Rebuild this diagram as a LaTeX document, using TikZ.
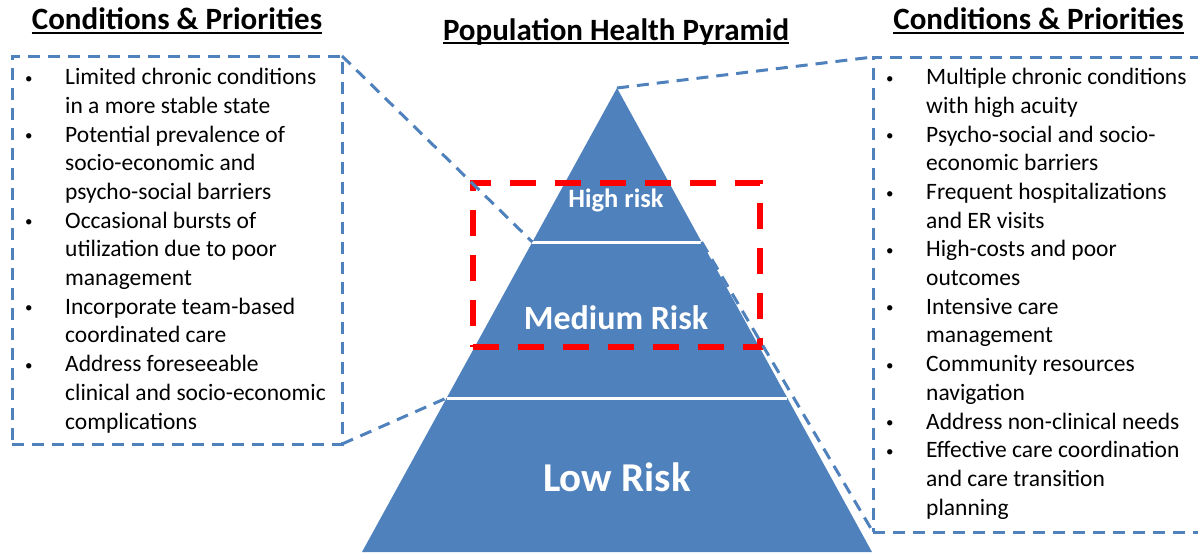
\documentclass[tikz,border=0pt]{standalone}
\usepackage{fontspec}
\setmainfont{Carlito}
\usetikzlibrary{positioning}

\definecolor{pyrblue}{HTML}{4F81BD}
\newcommand{\bitem}{\makebox[40pt][l]{\raisebox{1.5pt}{\fontsize{15}{15}\selectfont\textbullet}}}
\newcommand{\bcont}{\hspace*{40pt}}

\tikzset{
  head/.style={font=\fontsize{31}{36}\selectfont\bfseries, inner sep=0pt, anchor=base},
  layer/.style={text=white, inner sep=0pt, anchor=base},
  listbox/.style={draw=pyrblue, line width=3pt, dash pattern=on 12pt off 8pt, outer sep=0pt, inner sep=0pt},
  link/.style={draw=pyrblue, line width=3pt, dash pattern=on 12pt off 8pt},
  itemtext/.style={font=\fontsize{23.5}{28.67}\selectfont, align=left, inner sep=0pt, anchor=base west},
  focus/.style={draw=red, line width=6pt, dash pattern=on 26pt off 19pt, inner sep=0pt, minimum width=287pt, minimum height=164pt},
}

\begin{document}
\begin{tikzpicture}[x=1pt,y=-1pt]
\useasboundingbox (0,0) rectangle (1198,552);

% pyramid
\coordinate (apex) at (617,88);
\coordinate (bl) at (362,552);
\coordinate (br) at (872,552);
\coordinate (s1l) at (532.4,242);
\coordinate (s1r) at (701.6,242);
\coordinate (s2l) at (446.6,398);
\coordinate (s2r) at (787.4,398);
\fill[pyrblue] (apex) -- (bl) -- (br) -- cycle;
\draw[white, line width=3pt] (s1l) -- (s1r);
\draw[white, line width=3pt] (s2l) -- (s2r);

\node[layer, font=\fontsize{26.5}{32}\selectfont\bfseries] (high) at (616,207) {High risk};
\node[layer, font=\fontsize{34}{40}\selectfont\bfseries] (medium) at (616,329) {Medium Risk};
\node[layer, font=\fontsize{41}{48}\selectfont\bfseries] (low) at (617,491) {Low Risk};

% highlight
\node[focus] (hl) at (616.5,265) {};

% titles
\node[head] (ttl) at (616,40) {Population Health Pyramid};
\node[head] (lhead) at (177,29) {Conditions \& Priorities};
\node[head] (rhead) at (1038.5,29) {Conditions \& Priorities};
\draw[line width=1.8pt] ([yshift=-3pt]ttl.base west) -- ([yshift=-3pt]ttl.base east);
\draw[line width=1.8pt] ([yshift=-4pt]lhead.base west) -- ([yshift=-4pt]lhead.base east);
\draw[line width=1.8pt] ([yshift=-4pt]rhead.base west) -- ([yshift=-4pt]rhead.base east);

% boxes
\node[listbox, minimum width=330pt, minimum height=388pt] (lbox) at (177,250) {};
\node[listbox, minimum width=337pt, minimum height=475pt] (rbox) at (1041.5,294.5) {};

% base anchor sits on the last line
\node[itemtext] (ltext) at (25,429) {%
\bitem Limited chronic conditions\\
\bcont in a more stable state\\
\bitem Potential prevalence of\\
\bcont socio-economic and\\
\bcont psycho-social barriers\\
\bitem Occasional bursts of\\
\bcont utilization due to poor\\
\bcont management\\
\bitem Incorporate team-based\\
\bcont coordinated care\\
\bitem Address foreseeable\\
\bcont clinical and socio-economic\\
\bcont complications};

\node[itemtext] (rtext) at (886,515) {%
\bitem Multiple chronic conditions\\
\bcont with high acuity\\
\bitem Psycho-social and socio-\\
\bcont economic barriers\\
\bitem Frequent hospitalizations\\
\bcont and ER visits\\
\bitem High-costs and poor\\
\bcont outcomes\\
\bitem Intensive care\\
\bcont management\\
\bitem Community resources\\
\bcont navigation\\
\bitem Address non-clinical needs\\
\bitem Effective care coordination\\
\bcont and care transition\\
\bcont planning};

% links
\draw[link] (lbox.north east) -- (s1l);
\draw[link] (lbox.south east) -- (s2l);
\draw[link] (apex) -- (rbox.north west);
\draw[link] (s1r) -- (rbox.south west);
\end{tikzpicture}
\end{document}
